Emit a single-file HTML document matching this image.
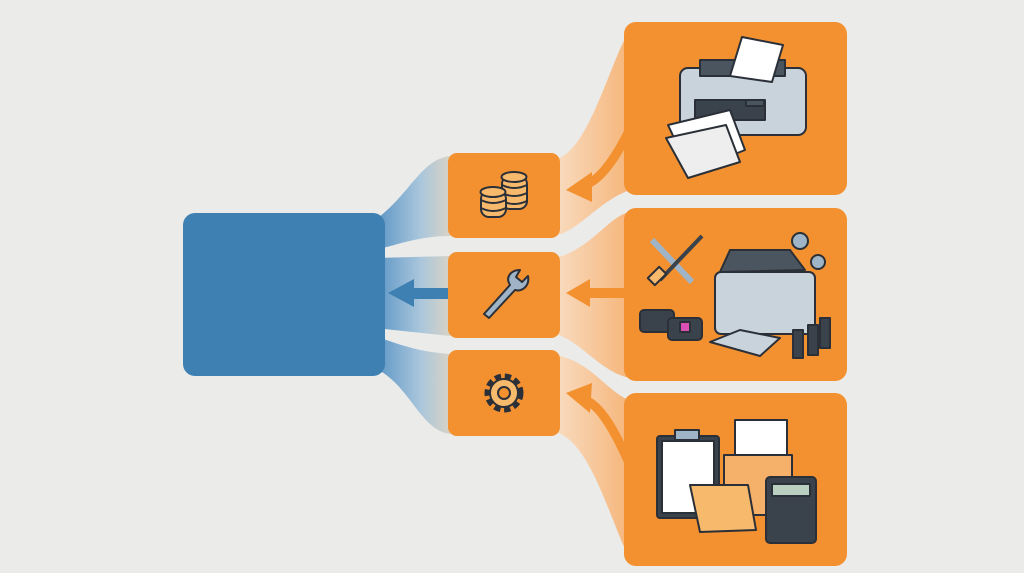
<!DOCTYPE html>
<html><head><meta charset="utf-8"><style>
html,body{margin:0;padding:0;background:#ebebea;}
svg{display:block}
</style></head><body>
<svg width="1024" height="573" viewBox="0 0 1024 573" xmlns="http://www.w3.org/2000/svg">
<defs>
<linearGradient id="bl" x1="0" x2="1" y1="0" y2="0">
<stop offset="0" stop-color="#5a94c4"/><stop offset="0.6" stop-color="#a9c6dc"/><stop offset="1" stop-color="#d8d3c6"/>
</linearGradient>
<linearGradient id="or" x1="1" x2="0" y1="0" y2="0">
<stop offset="0" stop-color="#f6b57a"/><stop offset="1" stop-color="#f8dcc0"/>
</linearGradient>
</defs>
<rect width="1024" height="573" fill="#ebebea"/>
<path d="M375 220 C410 195 420 160 450 156 L450 236 C420 236 400 244 375 250 Z" fill="url(#bl)"/>
<path d="M375 258 L450 256 L450 336 L375 328 Z" fill="url(#bl)"/>
<path d="M375 336 C400 345 420 352 450 354 L450 434 C420 430 410 385 375 368 Z" fill="url(#bl)"/>
<path d="M555 160 C590 150 610 60 630 30 L630 190 C600 200 580 230 555 236 Z" fill="url(#or)"/>
<path d="M555 258 C590 250 610 215 630 212 L630 378 C600 372 580 340 555 334 Z" fill="url(#or)"/>
<path d="M555 355 C590 360 610 395 630 400 L630 560 C610 520 590 440 555 432 Z" fill="url(#or)"/>
<rect x="183" y="213" width="202" height="163" rx="12" fill="#3f80b2"/>
<rect x="410" y="288" width="40" height="11" fill="#3f80b2"/>
<polygon points="388,293 414,279 414,307" fill="#3f80b2"/>
<rect x="448" y="153" width="112" height="85" rx="9" fill="#f39130"/>
<rect x="448" y="252" width="112" height="86" rx="9" fill="#f39130"/>
<rect x="448" y="350" width="112" height="86" rx="9" fill="#f39130"/>
<path d="M632 125 C615 160 600 180 585 185" stroke="#f39130" stroke-width="9" fill="none"/>
<polygon points="566,190 592,172 592,202" fill="#f39130"/>
<rect x="585" y="288" width="45" height="10" fill="#f39130"/>
<polygon points="566,293 590,279 590,307" fill="#f39130"/>
<path d="M632 470 C615 430 600 405 585 400" stroke="#f39130" stroke-width="9" fill="none"/>
<polygon points="566,393 592,383 590,413" fill="#f39130"/>
<rect x="624" y="22" width="223" height="173" rx="12" fill="#f39130"/>
<rect x="624" y="208" width="223" height="173" rx="12" fill="#f39130"/>
<rect x="624" y="393" width="223" height="173" rx="12" fill="#f39130"/>
<g stroke="#2b3038" stroke-width="2" stroke-linejoin="round">
<g fill="#f7b96c">
<rect x="502" y="176" width="25" height="33" rx="8"/>
<ellipse cx="514" cy="177" rx="12.5" ry="5"/>
<path d="M502 185 q12 6 25 0 M502 193 q12 6 25 0 M502 201 q12 6 25 0" fill="none"/>
<rect x="481" y="191" width="25" height="26" rx="8"/>
<ellipse cx="493" cy="192" rx="12.5" ry="5"/>
<path d="M481 200 q12 6 25 0 M481 208 q12 6 25 0" fill="none"/>
</g>
<path d="M484 314 L510 285 C505 277 511 270 520 270 L516 277 L522 282 L528 276 C530 286 522 292 515 290 L489 318 Z" fill="#9fb4c6"/>
<circle cx="504" cy="393" r="16" fill="none" stroke-dasharray="6 3.5" stroke-width="7" stroke="#2b3038"/>
<circle cx="504" cy="393" r="14" fill="#f7b96c"/>
<circle cx="504" cy="393" r="6" fill="#f39130"/>
<rect x="680" y="68" width="126" height="67" rx="8" fill="#c9d3dc"/>
<rect x="700" y="60" width="85" height="16" fill="#4a5560"/>
<polygon points="742,37 783,45 772,82 730,76" fill="#fff"/>
<rect x="695" y="100" width="70" height="20" fill="#3a424b"/>
<polygon points="668,125 730,110 745,150 690,172" fill="#fff"/>
<polygon points="666,138 726,125 740,162 688,178" fill="#eee"/>
<rect x="746" y="100" width="18" height="6" fill="#4a5560"/>
<path d="M652 240 L692 282" stroke="#9fb4c6" stroke-width="6"/>
<path d="M702 236 L660 280" stroke="#3a424b" stroke-width="4"/>
<rect x="652" y="268" width="10" height="16" fill="#f7b96c" transform="rotate(45 657 276)"/>
<circle cx="800" cy="241" r="8" fill="#9fb4c6"/><circle cx="818" cy="262" r="7" fill="#9fb4c6"/>
<rect x="715" y="272" width="100" height="62" rx="6" fill="#c9d3dc"/>
<polygon points="730,250 790,250 805,270 720,272" fill="#4a5560"/>
<polygon points="710,342 740,330 780,338 760,356" fill="#c9d3dc"/>
<rect x="640" y="310" width="34" height="22" rx="4" fill="#3a424b"/>
<rect x="668" y="318" width="34" height="22" rx="4" fill="#3a424b"/>
<rect x="680" y="322" width="10" height="10" fill="#d94fb4"/>
<rect x="793" y="330" width="10" height="28" fill="#3a424b"/><rect x="808" y="325" width="10" height="30" fill="#3a424b"/><rect x="820" y="318" width="10" height="30" fill="#3a424b"/>
<rect x="657" y="436" width="62" height="82" rx="3" fill="#3a424b"/>
<rect x="662" y="441" width="52" height="72" fill="#fff"/>
<rect x="675" y="430" width="24" height="10" fill="#9fb4c6"/>
<rect x="735" y="420" width="52" height="60" fill="#fff"/>
<rect x="724" y="455" width="68" height="60" fill="#f5b06a"/>
<polygon points="690,485 748,485 756,530 700,532" fill="#f7b96c"/>
<rect x="766" y="477" width="50" height="66" rx="4" fill="#3a424b"/>
<rect x="772" y="484" width="38" height="12" fill="#b9d0c0"/>
</g>
</svg>
</body></html>
